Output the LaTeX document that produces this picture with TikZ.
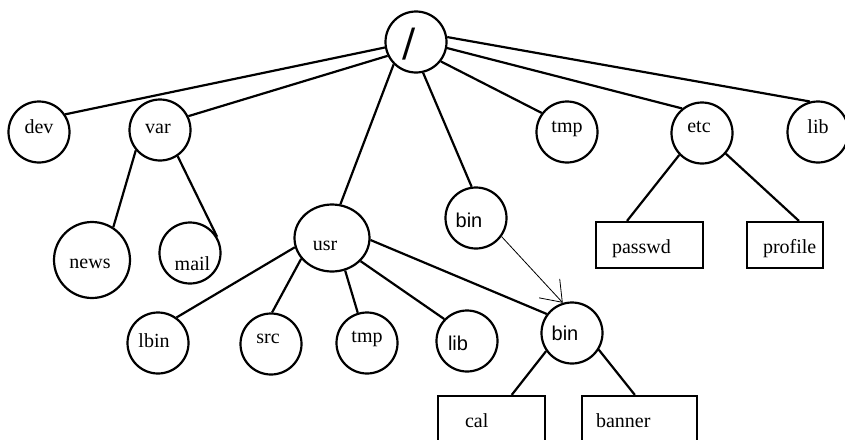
\documentclass[tikz,border=0pt]{standalone}
\usepackage{fontspec}
\setmainfont{Liberation Serif}
\newfontfamily\labelsans{Liberation Sans}
\newfontfamily\rootfont{DejaVu Sans}
\usetikzlibrary{shapes.geometric,arrows.meta}

% label text: #1 = twice the horizontal shift, #2 = baseline drop below the node centre
\newcommand\lbl[3]{\raisebox{-#2}{\makebox[0pt]{\hspace*{#1}#3}}}

\begin{document}
\begin{tikzpicture}[x=1pt,y=-1pt,
  every node/.style={font=\fontsize{20}{24}\selectfont},
  dir/.style={circle, draw, line width=2.2pt, minimum size=61pt, inner sep=0pt,
              text height=0pt, text depth=0pt},
  file/.style={rectangle, draw, line width=2.2pt, minimum height=46pt,
               inner xsep=0pt, inner ysep=0pt, align=left,
               text height=0pt, text depth=0pt},
  link/.style={line width=2.2pt},
  hardlink/.style={line width=0.8pt, -{Straight Barb[length=19pt,width=28pt]}}]

\path[use as bounding box, clip] (0,0) rectangle (845,439);

% directories
\node[dir] (root) at (416,42) {\rootfont\fontsize{39}{39}\selectfont\lbl{-14pt}{14pt}{/}};
\node[dir] (dev)  at (39,132)  {\lbl{0pt}{1pt}{dev}};
\node[dir] (var)  at (160,130) {\lbl{-4pt}{3pt}{var}};
\node[dir, minimum size=76pt] (news) at (92,260) {\lbl{-4pt}{8pt}{news}};
\node[dir] (mail) at (190,253) {\lbl{5pt}{17pt}{mail}};
\node[dir, ellipse, minimum width=75pt, minimum height=67pt] (usr) at (332,238) {\lbl{-14pt}{12pt}{usr}};
\node[dir] (lbin) at (158,343) {\lbl{-8pt}{4pt}{lbin}};
\node[dir] (src)  at (271,344) {\lbl{-6pt}{-1pt}{src}};
\node[dir] (utmp) at (367,343) {\lbl{0pt}{-1pt}{tmp}};
\node[dir] (ulib) at (467,341) {\labelsans\lbl{-18pt}{9pt}{lib}};
\node[dir] (bin)  at (476,218) {\labelsans\lbl{-14pt}{9pt}{bin}};
\node[dir] (ubin) at (572,333) {\labelsans\lbl{-14pt}{7pt}{bin}};
\node[dir] (tmp)  at (567,132) {\lbl{0pt}{0pt}{tmp}};
\node[dir] (etc)  at (702,133) {\lbl{-6pt}{-1pt}{etc}};
\node[dir] (lib)  at (818,132) {\lbl{0pt}{1pt}{lib}};

% ordinary files
\node[file, text width=107pt] (passwd)  at (649.5,245) {\hspace*{16pt}\raisebox{-8pt}{passwd}};
\node[file, text width=76pt]  (profile) at (785,245)   {\hspace*{16pt}\raisebox{-8pt}{profile}};
\node[file, text width=107pt] (cal)     at (491.5,419) {\hspace*{27pt}\raisebox{-8pt}{cal}};
\node[file, text width=115pt] (banner)  at (639.5,419) {\hspace*{14pt}\raisebox{-8pt}{banner}};

% tree edges
\draw[link] (root.190) -- (dev.34);
\draw[link] (root.206) -- (var.26);
\draw[link] (root.225) -- (usr.76);
\draw[link] (root.-77) -- (bin.98);
\draw[link] (root.-38) -- (tmp.143);
\draw[link] (root.-11) -- (etc.129);
\draw[link] (root.9)   -- (lib.105);
\draw[link] (var.-140) -- (news.57);
\draw[link] (var.-56)  -- (mail.31);
\draw[link] (usr.194)  -- (lbin.54);
\draw[link] (usr.214)  -- (src.88);
\draw[link] (usr.-68)  -- (utmp.107);
\draw[link] (usr.-39)  -- (ulib.136);
\draw[link] (usr.-3)   -- (ubin.143);
\draw[link] (etc.-136) -- (passwd.133);
\draw[link] (etc.-41)  -- (profile.60);
\draw[link] (ubin.-145) -- (cal.50);
\draw[link] (ubin.-32)  -- (banner.101);

% link from /bin to /usr/bin
\draw[hardlink] (bin.-36) -- (ubin.107);
\end{tikzpicture}
\end{document}
